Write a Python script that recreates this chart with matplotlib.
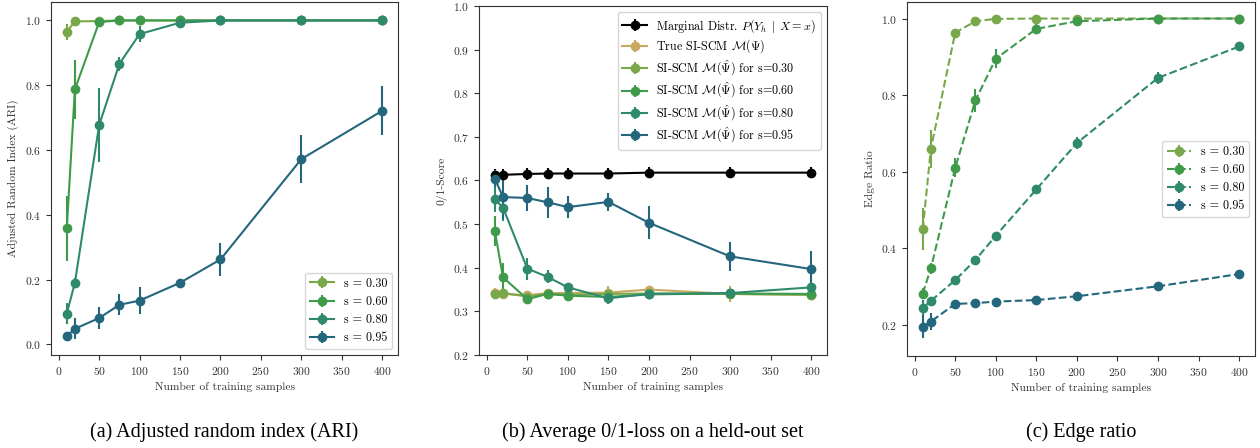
import matplotlib
matplotlib.use("Agg")
import matplotlib.pyplot as plt

plt.rcParams["font.family"] = "serif"
plt.rcParams["font.serif"] = ["cmr10", "DejaVu Serif"]
plt.rcParams["mathtext.fontset"] = "cm"
plt.rcParams["axes.formatter.use_mathtext"] = True
plt.rcParams["axes.unicode_minus"] = False

# ---------------------------------------------------------------------------
# Data
# ---------------------------------------------------------------------------
n_samples = [10, 20, 50, 75, 100, 150, 200, 300, 400]
s_labels = ["0.30", "0.60", "0.80", "0.95"]
s_colors = ["#79a84b", "#3f9a4c", "#2f8a6c", "#24677d"]

# (a) ARI
ari_mean = [
    [0.965, 0.997, 0.998, 1.0, 1.0, 1.0, 1.0, 1.0, 1.0],
    [0.358, 0.787, 0.995, 1.0, 1.0, 1.0, 1.0, 1.0, 1.0],
    [0.095, 0.190, 0.677, 0.866, 0.958, 0.993, 1.0, 1.0, 1.0],
    [0.025, 0.048, 0.081, 0.122, 0.135, 0.190, 0.262, 0.572, 0.721],
]
ari_err = [
    [0.025, 0.005, 0.004, 0.0, 0.0, 0.0, 0.0, 0.0, 0.0],
    [0.100, 0.090, 0.006, 0.0, 0.0, 0.0, 0.0, 0.0, 0.0],
    [0.032, 0.015, 0.115, 0.022, 0.026, 0.005, 0.0, 0.0, 0.0],
    [0.005, 0.033, 0.035, 0.033, 0.042, 0.006, 0.051, 0.073, 0.076],
]

# (b) 0/1 score
marg_mean = [0.613, 0.613, 0.615, 0.616, 0.616, 0.616, 0.618, 0.618, 0.618]
marg_err = [0.014, 0.014, 0.013, 0.013, 0.013, 0.013, 0.013, 0.013, 0.013]
true_mean = [0.341, 0.340, 0.337, 0.342, 0.342, 0.343, 0.350, 0.340, 0.338]
true_err = [0.012, 0.010, 0.010, 0.008, 0.010, 0.016, 0.008, 0.018, 0.012]
loss_mean = [
    [0.339, 0.342, 0.334, 0.340, 0.338, 0.340, 0.341, 0.340, 0.338],
    [0.484, 0.378, 0.328, 0.340, 0.336, 0.333, 0.339, 0.341, 0.340],
    [0.557, 0.538, 0.398, 0.379, 0.355, 0.330, 0.340, 0.342, 0.355],
    [0.604, 0.562, 0.560, 0.550, 0.539, 0.551, 0.503, 0.426, 0.397],
]
loss_err = [
    [0.010, 0.010, 0.008, 0.008, 0.008, 0.008, 0.008, 0.008, 0.008],
    [0.035, 0.033, 0.008, 0.008, 0.008, 0.008, 0.008, 0.008, 0.008],
    [0.030, 0.030, 0.025, 0.015, 0.010, 0.012, 0.008, 0.008, 0.008],
    [0.020, 0.050, 0.030, 0.035, 0.025, 0.020, 0.038, 0.033, 0.042],
]

# (c) edge ratio
edge_mean = [
    [0.450, 0.660, 0.963, 0.993, 0.999, 1.0, 1.0, 1.0, 1.0],
    [0.282, 0.348, 0.610, 0.787, 0.895, 0.973, 0.993, 1.0, 1.0],
    [0.245, 0.263, 0.317, 0.370, 0.433, 0.554, 0.675, 0.845, 0.927],
    [0.195, 0.209, 0.255, 0.257, 0.261, 0.265, 0.275, 0.301, 0.333],
]
edge_err = [
    [0.055, 0.050, 0.010, 0.004, 0.002, 0.0, 0.0, 0.0, 0.0],
    [0.015, 0.015, 0.025, 0.030, 0.025, 0.012, 0.004, 0.0, 0.0],
    [0.020, 0.008, 0.006, 0.006, 0.006, 0.010, 0.015, 0.015, 0.006],
    [0.030, 0.022, 0.008, 0.006, 0.006, 0.006, 0.006, 0.006, 0.006],
]

captions = ["(a) Adjusted random index (ARI)",
            "(b) Average 0/1-loss on a held-out set",
            "(c) Edge ratio"]

# ---------------------------------------------------------------------------
# Plotting
# ---------------------------------------------------------------------------
TICK_FS = 8.3
LABEL_FS = 8.3
LEG_FS = 8.7
MS = 6
LW = 1.5

fig = plt.figure(figsize=(12.6, 4.48), dpi=100)
ax_a = fig.add_axes([0.0405, 0.2076, 0.2754, 0.788])
ax_b = fig.add_axes([0.3802, 0.2076, 0.2762, 0.779])
ax_c = fig.add_axes([0.7198, 0.2054, 0.2762, 0.790])


def style(ax, ylabel):
    ax.set_xlabel("Number of training samples", fontsize=LABEL_FS, color="#333333")
    ax.set_ylabel(ylabel, fontsize=LABEL_FS, color="#333333")
    ax.tick_params(labelsize=TICK_FS, colors="#333333")
    ax.set_xticks(range(0, 401, 50))
    for sp in ax.spines.values():
        sp.set_color("#333333")


# ---- (a) ----
for mean, err, col, lab in zip(ari_mean, ari_err, s_colors, s_labels):
    ax_a.errorbar(n_samples, mean, yerr=err, fmt="o-", color=col, ms=MS,
                  lw=LW, elinewidth=LW, label=f"s = {lab}")
ax_a.set_ylim(-0.033, 1.057)
ax_a.set_yticks([0.0, 0.2, 0.4, 0.6, 0.8, 1.0])
style(ax_a, "Adjusted Random Index (ARI)")
ax_a.legend(loc="lower right", fontsize=LEG_FS, handlelength=2.0)

# ---- (b) ----
ax_b.errorbar(n_samples, marg_mean, yerr=marg_err, fmt="o-", color="black",
              ms=MS, lw=LW, elinewidth=LW,
              label=r"Marginal Distr. $P(Y_h \;\mid\; X = x)$")
ax_b.errorbar(n_samples, true_mean, yerr=true_err, fmt="o-", color="#c9a862",
              ms=MS, lw=LW, elinewidth=LW,
              label=r"True SI-SCM $\mathcal{M}(\Psi)$")
for mean, err, col, lab in zip(loss_mean, loss_err, s_colors, s_labels):
    ax_b.errorbar(n_samples, mean, yerr=err, fmt="o-", color=col, ms=MS,
                  lw=LW, elinewidth=LW,
                  label=r"SI-SCM $\mathcal{M}(\hat{\Psi})$ for s=" + lab)
ax_b.set_ylim(0.2, 1.0)
style(ax_b, "0/1-Score")
ax_b.legend(loc="upper right", fontsize=LEG_FS, handlelength=2.0,
            labelspacing=0.25)

# ---- (c) ----
for mean, err, col, lab in zip(edge_mean, edge_err, s_colors, s_labels):
    ax_c.errorbar(n_samples, mean, yerr=err, fmt="o--", color=col, ms=MS,
                  lw=LW, elinewidth=LW, label=f"s = {lab}")
ax_c.set_ylim(0.119, 1.043)
ax_c.set_yticks([0.2, 0.4, 0.6, 0.8, 1.0])
style(ax_c, "Edge Ratio")
ax_c.legend(loc="center right", fontsize=LEG_FS, handlelength=2.0)

# captions
for ax, cap in zip([ax_a, ax_b, ax_c], captions):
    pos = ax.get_position()
    fig.text(pos.x0 + pos.width / 2, 0.035, cap, ha="center", va="center",
             fontsize=14.5, family="Liberation Serif")

fig.savefig("out.png", dpi=100)
